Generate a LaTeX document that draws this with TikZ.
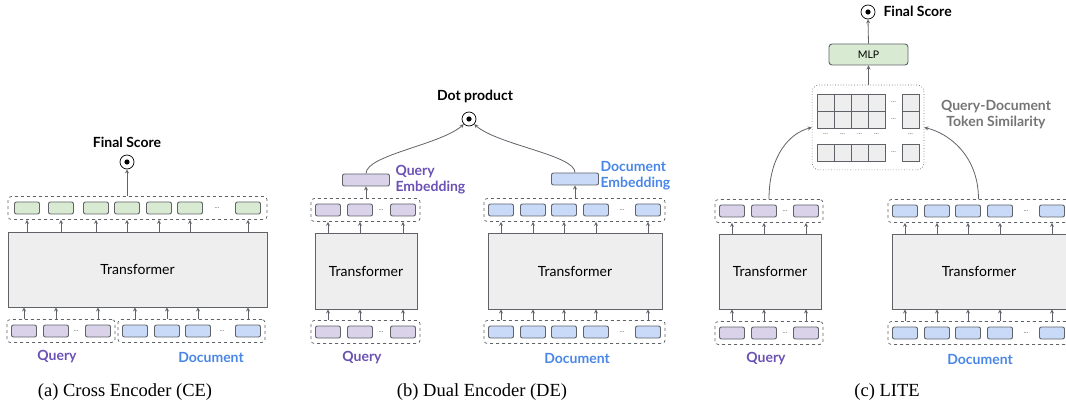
\documentclass[tikz,border=0pt]{standalone}
\usepackage{fontspec}
\setmainfont{Liberation Serif}
\newfontfamily\gfont{Lato}
\usetikzlibrary{fit}

\definecolor{qpurple}{HTML}{6A51B3}
\definecolor{dblue}{HTML}{4A86E8}
\definecolor{qfill}{HTML}{D9D2E9}
\definecolor{dfill}{HTML}{C9DAF8}
\definecolor{gfill}{HTML}{D9EAD3}
\definecolor{tfill}{HTML}{EEEEEE}
\definecolor{edgegray}{HTML}{5F6368}
\definecolor{simgray}{HTML}{757575}

\tikzset{
  tok/.style={draw=edgegray,rounded corners=2pt,line width=0.9pt,minimum width=25pt,minimum height=12pt,inner sep=0pt},
  tokq/.style={tok,fill=qfill},
  tokd/.style={tok,fill=dfill},
  tokg/.style={tok,fill=gfill},
  grp/.style={draw=edgegray,dashed,rounded corners=3pt,line width=0.7pt,inner xsep=4pt,inner ysep=5pt},
  simgrp/.style={draw=edgegray,dotted,rounded corners=7pt,line width=0.7pt,inner xsep=4.5pt,inner ysep=8.5pt},
  trans/.style={draw=edgegray,fill=tfill,line width=0.9pt,font=\gfont\fontsize{14}{16}\selectfont},
  dotp/.style={draw=black,circle,fill=white,minimum size=14pt,inner sep=0pt,line width=0.7pt},
  lab/.style={font=\gfont\bfseries\fontsize{14}{16}\selectfont},
  ell/.style={font=\gfont\fontsize{7}{8}\selectfont,text=edgegray},
  subcap/.style={font=\fontsize{18.5}{20}\selectfont},
  cell/.style={draw=edgegray,fill=tfill,minimum size=17pt,inner sep=0pt,line width=0.8pt},
  up/.style={->,>=stealth,draw=edgegray,line width=0.8pt},
}

\begin{document}
\begin{tikzpicture}[x=1pt,y=-1pt]
\useasboundingbox (0,0) rectangle (1066,406);
\clip (0,0) rectangle (1066,406);

% (a) cross encoder
\node[trans,minimum width=259pt,minimum height=75pt] (at) at (137.5,269.5) {Transformer};
\foreach \x [count=\i] in {27,61,96,127,159,190,248}
  \node[tokg] (ao\i) at (\x,208) {};
\node[ell] (aod) at (217,208) {...};
\node[grp,inner xsep=6pt,fit=(ao1)(ao7)] (aog) {};
\foreach \i in {1,...,7}
  \draw[up] (at.north -| ao\i) -- (aog.south -| ao\i);
\foreach \x [count=\i] in {24,56,98}
  \node[tokq] (aq\i) at (\x,331) {};
\node[ell] (aqd) at (76,331) {...};
\node[grp,fit=(aq1)(aq3)] (aqg) {};
\foreach \x [count=\i] in {135,167,198,248}
  \node[tokd] (ad\i) at (\x,331) {};
\node[ell] (add) at (222,331) {...};
\node[grp,fit=(ad1)(ad4)] (adg) {};
\foreach \i in {1,2,3}
  \draw[up] (aqg.north -| aq\i) -- (at.south -| aq\i);
\foreach \i in {1,...,4}
  \draw[up] (adg.north -| ad\i) -- (at.south -| ad\i);
\node[dotp] (adp) at (127,162) {};
\fill (adp) circle (2.6pt);
\draw[up] (aog.north -| adp) -- (adp.south);
\node[lab] (afs) at (127,142) {Final Score};
\node[lab,text=qpurple] (aql) at (57,357) {Query};
\node[lab,text=dblue] (adl) at (211,357) {Document};
\node[subcap] (capa) at (125,392) {(a) Cross Encoder (CE)};

% (b) dual encoder
\node[trans,minimum width=102pt,minimum height=76pt] (bqt) at (366,271) {Transformer};
\node[trans,minimum width=174pt,minimum height=76pt] (bdt) at (575,271) {Transformer};
\foreach \x [count=\i] in {328,360,403} {
  \node[tokq] (bqo\i) at (\x,210) {};
  \node[tokq] (bqi\i) at (\x,332) {};
}
\node[ell] (bqod) at (381,210) {...};
\node[ell] (bqid) at (381,332) {...};
\node[grp,fit=(bqo1)(bqo3)] (bqog) {};
\node[grp,fit=(bqi1)(bqi3)] (bqig) {};
\foreach \x [count=\i] in {501,533,564,596,648} {
  \node[tokd] (bdo\i) at (\x,210) {};
  \node[tokd] (bdi\i) at (\x,332) {};
}
\node[ell] (bdod) at (622,210) {...};
\node[ell] (bdid) at (622,332) {...};
\node[grp,fit=(bdo1)(bdo5)] (bdog) {};
\node[grp,fit=(bdi1)(bdi5)] (bdig) {};
\foreach \i in {1,2,3} {
  \draw[up] (bqt.north -| bqo\i) -- (bqog.south -| bqo\i);
  \draw[up] (bqig.north -| bqi\i) -- (bqt.south -| bqi\i);
}
\foreach \i in {1,...,5} {
  \draw[up] (bdt.north -| bdo\i) -- (bdog.south -| bdo\i);
  \draw[up] (bdig.north -| bdi\i) -- (bdt.south -| bdi\i);
}
\node[tokq,minimum width=47pt] (bqe) at (366,180) {};
\node[tokd,minimum width=47pt] (bde) at (575,179) {};
\draw[up] (bqog.north -| bqe) -- (bqe.south);
\draw[up] (bdog.north -| bde) -- (bde.south);
\node[dotp] (bdp) at (469,119) {};
\fill (bdp) circle (2.6pt);
\draw[up] (bqe.north) .. controls (366,155) and (440,145) .. (bdp.south west);
\draw[up] (bde.north) .. controls (575,155) and (498,145) .. (bdp.south east);
\node[lab] (bdpl) at (475,96) {Dot product};
\node[lab,text=qpurple,align=left,anchor=west] (bqel) at (392,180) {Query\\Embedding};
\node[lab,text=dblue,align=left,anchor=west] (bdel) at (597,176) {Document\\Embedding};
\node[lab,text=qpurple] (bql) at (362,358) {Query};
\node[lab,text=dblue] (bdl) at (577,358) {Document};
\node[subcap] (capb) at (482,392) {(b) Dual Encoder (DE)};

% (c) LITE
\node[trans,minimum width=102pt,minimum height=75pt] (cqt) at (770,271.5) {Transformer};
\node[trans,minimum width=174pt,minimum height=75pt] (cdt) at (979,271.5) {Transformer};
\foreach \x [count=\i] in {732,764,806} {
  \node[tokq] (cqo\i) at (\x,211) {};
  \node[tokq] (cqi\i) at (\x,333) {};
}
\node[ell] (cqod) at (785,211) {...};
\node[ell] (cqid) at (785,333) {...};
\node[grp,fit=(cqo1)(cqo3)] (cqog) {};
\node[grp,fit=(cqi1)(cqi3)] (cqig) {};
\foreach \x [count=\i] in {905,937,968,1000,1052} {
  \node[tokd] (cdo\i) at (\x,211) {};
  \node[tokd] (cdi\i) at (\x,333) {};
}
\node[ell] (cdod) at (1026,211) {...};
\node[ell] (cdid) at (1026,333) {...};
\node[grp,fit=(cdo1)(cdo5)] (cdog) {};
\node[grp,fit=(cdi1)(cdi5)] (cdig) {};
\foreach \i in {1,2,3} {
  \draw[up] (cqt.north -| cqo\i) -- (cqog.south -| cqo\i);
  \draw[up] (cqig.north -| cqi\i) -- (cqt.south -| cqi\i);
}
\foreach \i in {1,...,5} {
  \draw[up] (cdt.north -| cdo\i) -- (cdog.south -| cdo\i);
  \draw[up] (cdig.north -| cdi\i) -- (cdt.south -| cdi\i);
}
\foreach \r/\y in {1/102.5,2/119.5,3/152.5} {
  \foreach \c/\x in {1/825.5,2/842.5,3/859.5,4/876.5,5/910.5}
    \node[cell] (s\r\c) at (\x,\y) {};
  \node[ell] (sr\r) at (893.5,\y) {...};
}
\foreach \x [count=\c] in {825.5,842.5,859.5,876.5,910.5}
  \node[ell] (sc\c) at (\x,134) {...};
\node[simgrp,fit=(s11)(s35)] (sim) {};
\node[lab,text=simgray,align=center] (siml) at (996,114.5) {Query-Document\\Token Similarity};
\node[tokg,minimum width=79pt,minimum height=21pt,rounded corners=3pt,font=\gfont\fontsize{10.5}{12}\selectfont] (mlp) at (868.5,54.5) {MLP};
\draw[up] (sim.north -| mlp) -- (mlp.south);
\node[dotp] (cdp) at (868,12) {};
\fill (cdp) circle (2.6pt);
\draw[up] (mlp.north) -- (cdp.south);
\node[lab,anchor=west] (cfs) at (880,11) {Final Score};
\draw[up] (cqog.north) .. controls (769,155) and (790,133) .. (sim.west);
\draw[up] (cdog.north) .. controls (978.5,155) and (948,133) .. (sim.east);
\node[lab,text=qpurple] (cql) at (766,359) {Query};
\node[lab,text=dblue] (cdl) at (980,359) {Document};
\node[subcap] (capc) at (887,392) {(c) LITE};
\end{tikzpicture}
\end{document}
